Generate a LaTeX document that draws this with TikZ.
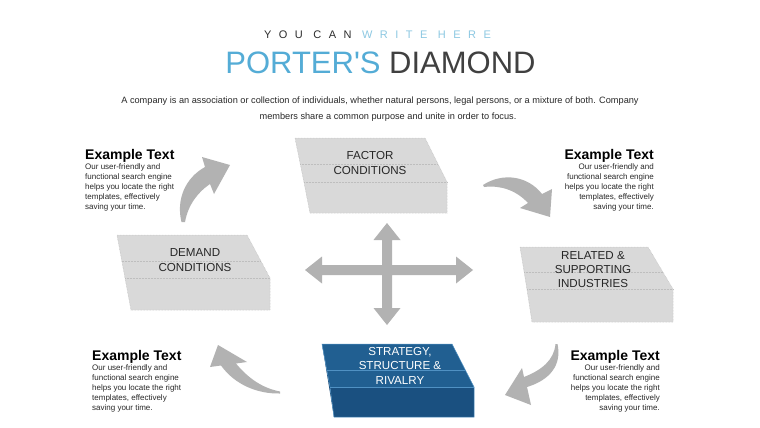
\documentclass[tikz,border=0pt]{standalone}
\usepackage{fontspec}
\setmainfont{Liberation Sans}
\usetikzlibrary{calc}
\definecolor{arrowgray}{RGB}{178,178,178}
\definecolor{boxgray}{RGB}{217,217,217}
\definecolor{boxline}{RGB}{190,190,190}
\definecolor{titleblue}{RGB}{84,172,214}
\definecolor{subblue}{RGB}{140,200,226}
\definecolor{darktext}{RGB}{64,64,64}
\definecolor{bodytext}{RGB}{40,40,40}
\definecolor{stratTop}{RGB}{33,95,145}
\definecolor{stratFront}{RGB}{26,80,128}
\definecolor{stratSide}{RGB}{22,70,114}
\definecolor{stratLine}{RGB}{80,145,195}
% #1 Ax #2 Ay #3 Bx #4 Cx #5 Cy #6 bottom y #7 Dx #8 D'x
\newcommand\myslab[8]{%
  \coordinate (sA) at (#1,#2);
  \coordinate (sB) at (#3,#2);
  \coordinate (sC) at (#4,#5);
  \coordinate (sD) at (#7,#5);
  \coordinate (sCb) at (#4,#6);
  \coordinate (sDb) at (#8,#6);
  \fill[slabtop] (sA) -- (sB) -- (sC) -- (sD) -- cycle;
  \fill[slabfront] (sD) -- (sC) -- (sCb) -- (sDb) -- cycle;
  \fill[slabside] (sA) -- (sD) -- (sDb) -- cycle;
  \draw[slabedge] (sA) -- (sB) -- (sC) -- (sCb) -- (sDb) -- (sD) -- cycle;
  \draw[slabedge] (sD) -- (sC);
  \draw[slabedge] ($(sA)!0.6!(sD)$) -- ($(sB)!0.6!(sC)$);
}
\begin{document}
\begin{tikzpicture}[x=1pt,y=-1pt,
  slabtop/.style={fill=boxgray},
  slabfront/.style={fill=boxgray},
  slabside/.style={fill=boxgray},
  slabedge/.style={draw=boxline,line width=0.5pt,densely dotted},
  arrowfill/.style={fill=arrowgray},
  boxtext/.style={font=\fontsize{11.6}{15}\selectfont,align=center,inner sep=0pt,text=black!85,anchor=north},
  desctext/.style={font=\fontsize{9.2}{11}\selectfont,inner sep=0pt,text=bodytext,anchor=base},
  extitle/.style={font=\bfseries\fontsize{14}{16}\selectfont,inner sep=0pt,text=black},
  exbody/.style={font=\fontsize{8}{10}\selectfont,inner sep=0pt,text=bodytext}]
\useasboundingbox (0,0) rectangle (760,428);
\fill[white] (0,0) rectangle (760,428);

% headings
\node[anchor=base,inner sep=0pt,font=\fontsize{11}{13}\selectfont] (sub) at (377.5,39)
  {\addfontfeature{LetterSpace=68}\color{darktext!70!black}YOU CAN \color{subblue}WRITE HERE};
\node[anchor=base,inner sep=0pt,font=\fontsize{31}{36}\selectfont] (title) at (380.5,74)
  {\color{titleblue}PORTER\textquotesingle S \color{darktext}DIAMOND};
\node[desctext] (desc1) at (380,103.5)
  {A company is an association or collection of individuals, whether natural persons, legal persons, or a mixture of both. Company};
\node[desctext] (desc2) at (388,119.5)
  {members share a common purpose and unite in order to focus.};

% gray slabs
\myslab{295}{138}{425}{447}{182}{213}{304}{310}
\myslab{117}{235}{247}{270}{278}{310}{125}{131}
\myslab{520}{247}{648}{673}{289}{322}{527}{532}
% blue slab
\begin{scope}[slabtop/.style={fill=stratTop},slabfront/.style={fill=stratFront},
  slabside/.style={fill=stratSide},slabedge/.style={draw=stratLine,line width=0.5pt}]
\myslab{322}{344}{452}{474}{387}{417}{330}{334}
\end{scope}

\node[boxtext] (factor) at (370,150.9) {FACTOR\\CONDITIONS};
\node[boxtext] (demand) at (195,247.9) {DEMAND\\CONDITIONS};
\node[boxtext,font=\fontsize{11.6}{14}\selectfont] (related) at (593,250.9) {RELATED \&\\SUPPORTING\\INDUSTRIES};
\node[boxtext,text=white,font=\fontsize{11.6}{14.5}\selectfont] (strategy) at (400,346.9) {STRATEGY,\\STRUCTURE \&\\RIVALRY};

% cross arrow
\fill[arrowfill] (387,223) -- (400.5,240) -- (392,240) -- (392,265) -- (456,265) -- (456,256.5)
  -- (473,270) -- (456,283.5) -- (456,275) -- (392,275) -- (392,308) -- (400.5,308)
  -- (387,325) -- (373.5,308) -- (382,308) -- (382,275) -- (322,275) -- (322,283.5)
  -- (305,270) -- (322,256.5) -- (322,265) -- (382,265) -- (382,240) -- (373.5,240) -- cycle;

% curved arrows
\fill[arrowfill] (181.5,222) .. controls (176,200) and (185,178) .. (205,167) -- (202,157) -- (230,165)
  -- (214,194) -- (210,184) .. controls (198,192) and (188,205) .. (185,222) -- cycle;
\fill[arrowfill] (483,185) .. controls (503,172) and (528,176) .. (542,194) -- (552,189) -- (550,217)
  -- (520,208) -- (528,203) .. controls (516,190) and (500,185) .. (484,187) -- cycle;
\fill[arrowfill] (557.5,344) .. controls (562,365) and (550,380) .. (527,387) -- (531,405) -- (505,395)
  -- (522,368) -- (524,377) .. controls (542,370) and (554,360) .. (555.5,344) -- cycle;
\fill[arrowfill] (280,393.5) .. controls (258,394) and (235,385) .. (221,365.5) -- (210,367) -- (218,345)
  -- (247,362) -- (236,363.5) .. controls (248,378) and (262,388) .. (280,391.5) -- cycle;

% example texts
\node[extitle,anchor=base west] (tlT) at (85,159) {Example Text};
\node[exbody,anchor=north west,align=left] (tlB) at (85,163.5)
  {Our user-friendly  and\\functional search engine\\helps you locate the right\\templates, effectively\\saving your time.};
\node[extitle,anchor=base east] (trT) at (654,159) {Example Text};
\node[exbody,anchor=north east,align=right] (trB) at (654,163.5)
  {Our user-friendly and\\functional search engine\\helps you locate the right\\templates, effectively\\saving your time.};
\node[extitle,anchor=base west] (blT) at (92,360) {Example Text};
\node[exbody,anchor=north west,align=left] (blB) at (92,364.8)
  {Our user-friendly  and\\functional search engine\\helps you locate the right\\templates, effectively\\saving your time.};
\node[extitle,anchor=base east] (brT) at (660,360) {Example Text};
\node[exbody,anchor=north east,align=right] (brB) at (660,364.8)
  {Our user-friendly and\\functional search engine\\helps you locate the right\\templates, effectively\\saving your time.};
\end{tikzpicture}
\end{document}
